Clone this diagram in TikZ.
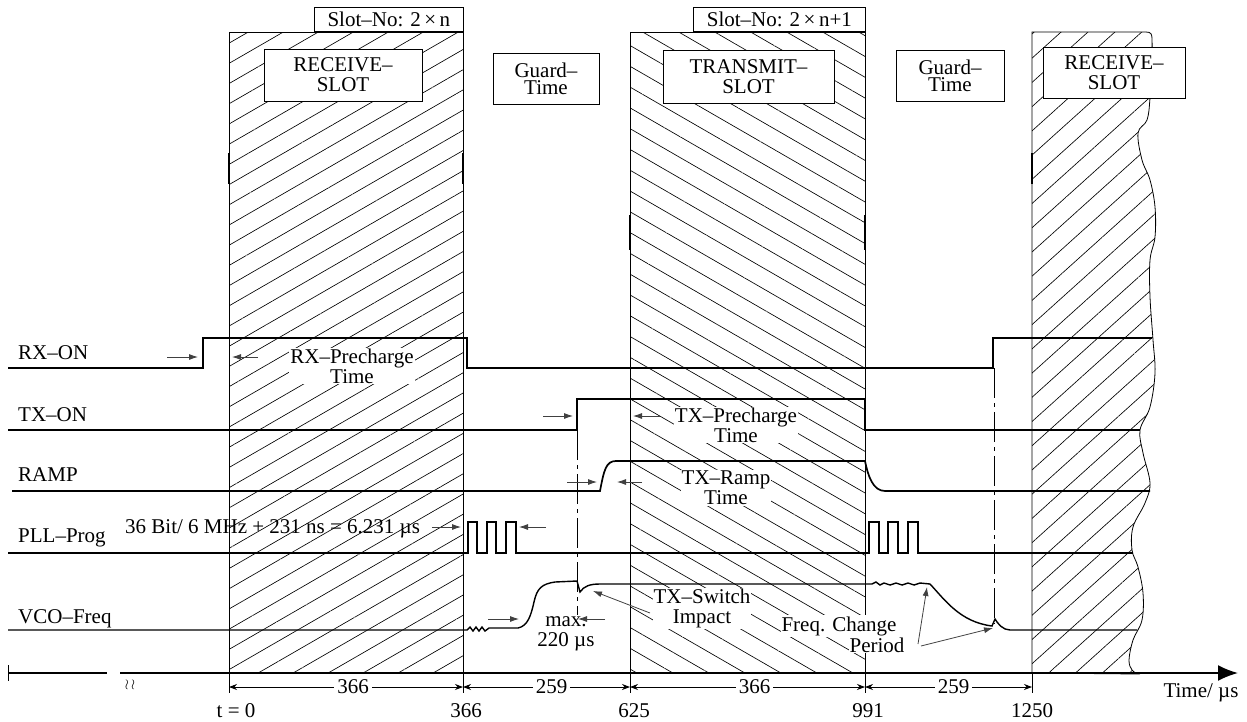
\documentclass[tikz,border=0pt]{standalone}
\usepackage{fontspec}
\setmainfont{Liberation Serif}
\usetikzlibrary{patterns.meta,arrows.meta}
\newcommand{\myfs}{\fontsize{21}{20}\selectfont}
\newcommand{\gfs}{\fontsize{21}{17}\selectfont}
\begin{document}
\begin{tikzpicture}[x=1pt,y=-1pt,
  every node/.style={font=\myfs, inner sep=0pt},
  sig/.style={line width=1.7pt},
  slotedge/.style={line width=0.8pt},
  thk/.style={line width=2pt},
  hatchR/.style={pattern={Lines[angle=30,distance=17.5pt,line width=0.65pt]}},
  hatchT/.style={pattern={Lines[angle=-30,distance=18pt,line width=0.65pt]}},
  hatchRR/.style={pattern={Lines[angle=42,distance=18pt,line width=0.65pt]}},
  tbox/.style={draw, fill=white, line width=0.8pt, align=center},
  ann/.style={line width=0.8pt, draw=black!75, -{Latex[length=9pt,width=6pt]}},
  dimline/.style={line width=0.8pt, {Stealth[length=8pt,width=6pt]}-{Stealth[length=8pt,width=6pt]}},
  dshdt/.style={line width=0.8pt, dash pattern=on 30pt off 5pt on 4pt off 5pt},
  wlbl/.style={fill=white, inner sep=1pt, align=center, anchor=north},
  tick/.style={line width=0.8pt},
]
\useasboundingbox (0,0) rectangle (1247,721);

% slots
\draw[slotedge, hatchR] (229,32) rectangle (463,673);
\draw[slotedge, hatchT] (630,32) rectangle (865,673);
\draw[slotedge, hatchRR] (1032,673) -- (1032,32) -- (1146,32) .. controls (1151,32) and (1152,34) .. (1152,39)
  -- plot[smooth, tension=0.6] coordinates {(1152,39) (1152,60) (1150,98) (1147,120) (1138,133) (1142,160) (1150,180) (1155,207) (1155,237) (1150,260) (1150,297) (1153,340) (1155,373) (1150,407) (1140,430) (1143,453) (1150,483) (1145,503) (1133,527) (1132,550) (1138,567) (1143,593) (1142,620) (1133,640) (1129,660) (1132,670) (1138,674)} -- cycle;

\draw[thk] (229,153) -- (229,184);
\draw[thk] (463,153) -- (463,184);
\draw[thk] (630,215) -- (630,250);
\draw[thk] (865,215) -- (865,250);
\draw[thk] (1032,153) -- (1032,184);

% boxes
\node[tbox, minimum width=149, minimum height=24, anchor=south west] (sn1) at (314,32) {Slot–No: 2\,×\,n};
\node[tbox, minimum width=172, minimum height=24, anchor=south west] (sn2) at (693,32) {Slot–No: 2\,×\,n+1};
\node[tbox, minimum width=158, minimum height=52] (rs1) at (343,75) {RECEIVE–\\SLOT};
\node[tbox, minimum width=106, minimum height=51, font=\gfs] (gt1) at (546,78.5) {Guard–\\Time};
\node[tbox, minimum width=171, minimum height=53] (ts) at (748.5,76.5) {TRANSMIT–\\SLOT};
\node[tbox, minimum width=108, minimum height=51, font=\gfs] (gt2) at (950,75.5) {Guard–\\Time};
\node[tbox, minimum width=142, minimum height=51] (rs2) at (1114,72.5) {RECEIVE–\\SLOT};

% annotation labels in hatched areas
\node[wlbl] (rxpre) at (352,347.5) {RX–Precharge\\Time};
\node[wlbl] (txpre) at (736,406.5) {TX–Precharge\\Time};
\node[wlbl] (txramp) at (726,469.5) {TX–Ramp\\Time};
\node[wlbl] (switch) at (702,587.5) {TX–Switch\\Impact};
\node[fill=white, inner sep=1pt, anchor=base] (freq1) at (839,631) {Freq. Change};
\node[fill=white, inner sep=1pt, anchor=base] (period) at (877,652) {Period};
\node[align=center, anchor=north] (maxl) at (566,616.5) {max.\\220 µs};

% signal names
\node[anchor=base west] (lrx) at (18,359) {RX–ON};
\node[anchor=base west] (ltx) at (18,421) {TX–ON};
\node[anchor=base west] (lramp) at (18,481) {RAMP};
\node[anchor=base west] (lpll) at (18,542) {PLL–Prog};
\node[anchor=base west] (lpllt) at (125,533) {36 Bit/ 6 MHz + 231 ns = 6.231 µs};
\node[anchor=base west] (lvco) at (18,623) {VCO–Freq};

% signals
\draw[sig] (8,368) -- (203,368) -- (203,338) -- (467,338) -- (467,368) -- (993,368) -- (993,338) -- (1152,338);
\draw[sig] (8,430) -- (577,430) -- (577,399) -- (865,399) -- (865,430) -- (1140,430);
\draw[sig] (12,491) -- (600,491) .. controls (604,470) and (606,461) .. (616,461) -- (865,461) .. controls (868,476) and (873,491) .. (885,491) -- (1150,491);
\draw[sig] (8,553) -- (468,553) -- (468,522) -- (477,522) -- (477,553) -- (487,553) -- (487,522) -- (496,522) -- (496,553) -- (506,553) -- (506,522) -- (516,522) -- (516,553)
  -- (869,553) -- (869,522) -- (879,522) -- (879,553) -- (888,553) -- (888,522) -- (898,522) -- (898,553) -- (908,553) -- (908,522) -- (918,522) -- (918,553) -- (1133,553);
\draw[sig, line width=1.4pt] (8,630) -- (467,630) -- (470,627) -- (473,631) -- (476,627) -- (479,631) -- (482,627) -- (485,631) -- (489,628) -- (518,628)
  .. controls (528,626) and (531,615) .. (534,602) .. controls (537,588) and (542,584) .. (555,582) -- (577,581) -- (580,592)
  .. controls (584,586) and (590,584) .. (600,584) -- (872,584) -- (876,582) -- (880,585) -- (884,583) -- (890,585) -- (896,583) -- (902,585) -- (908,583) -- (914,585) -- (920,583) -- (930,584)
  .. controls (945,600) and (960,622) .. (992,626) -- (995,619) .. controls (998,624) and (1003,630) .. (1010,630) -- (1137,630);

% dash-dot markers
\draw[dshdt] (577,430) -- (577,615);
\draw[dshdt] (994,368) -- (994,624);

% annotation arrows
\draw[ann] (167,357) -- (198,357);
\draw[ann] (258,357) -- (232,357);
\draw[ann] (543,416) -- (573,416);
\draw[ann] (660,416) -- (633,416);
\draw[ann] (567,482) -- (597,482);
\draw[ann] (642,482) -- (617,482);
\draw[ann] (432,527) -- (461,527);
\draw[ann] (546,527) -- (519,527);
\draw[ann] (488,619) -- (519,619);
\draw[ann] (605,619) -- (578,619);
\draw[ann] (650,613) -- (593,591);
\draw[ann] (918,644) -- (927,587);
\draw[ann] (921,646) -- (993,628);

% axis
\draw[line width=1.8pt] (8,673) -- (107,673);
\draw[line width=0.9pt] (8,665) -- (8,681);
\draw[line width=1.8pt, -{Latex[length=20pt,width=16pt]}] (120,673) -- (1238,673);
\node (brk) at (130,685) {\fontsize{14}{14}\selectfont$\wr\,\wr$};
\node[anchor=base] (tlabel) at (1201,697) {Time/ µs};

% ticks and dimensions
\foreach \x in {229,463,630,865,1032} \draw[tick] (\x,673) -- (\x,693);
\draw[dimline] (229,687) -- node[fill=white, inner sep=3pt, pos=0.53] (d1) {366} (463,687);
\draw[dimline] (463,687) -- node[fill=white, inner sep=3pt, pos=0.53] (d2) {259} (630,687);
\draw[dimline] (630,687) -- node[fill=white, inner sep=3pt, pos=0.53] (d3) {366} (865,687);
\draw[dimline] (865,687) -- node[fill=white, inner sep=3pt, pos=0.53] (d4) {259} (1032,687);

\node[anchor=base] (x0) at (236,717) {t = 0};
\node[anchor=base] (x1) at (466,717) {366};
\node[anchor=base] (x2) at (634,717) {625};
\node[anchor=base] (x3) at (868,717) {991};
\node[anchor=base] (x4) at (1032,717) {1250};
\end{tikzpicture}
\end{document}
